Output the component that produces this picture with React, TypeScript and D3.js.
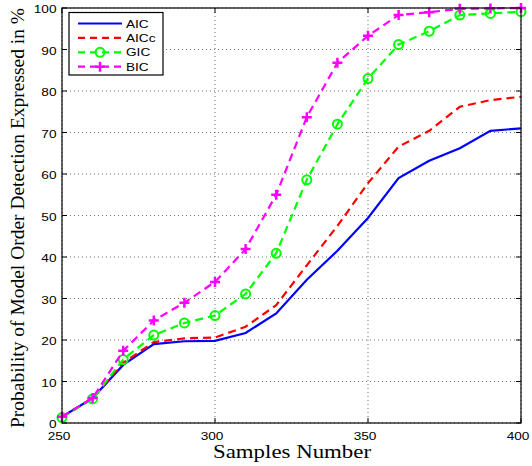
import React from "react";
import * as d3 from "d3";

const samples = [250, 260, 270, 280, 290, 300, 310, 320, 330, 340, 350, 360, 370, 380, 390, 400];
const aic = [1.5, 6, 14, 19, 19.7, 19.8, 21.7, 26.4, 34.5, 41.5, 49.4, 59, 63.2, 66.2, 70.4, 71];
const aicc = [1.5, 6, 14.5, 19.5, 20.4, 20.6, 23.2, 28.4, 38, 47.5, 57.8, 66.6, 70.4, 76.2, 77.8, 78.6];
const gic = [1.3, 5.8, 15.3, 21.2, 24.1, 25.9, 31.1, 40.9, 58.6, 72, 83, 91.2, 94.4, 98.3, 98.7, 99.1];
const bic = [1.5, 6, 17.4, 24.7, 29, 34, 41.9, 55, 73.7, 86.8, 93.3, 98.3, 99, 99.8, 99.9, 100];
const xTicks = [250, 300, 350, 400];
const yTicks = [0, 10, 20, 30, 40, 50, 60, 70, 80, 90, 100];
const seriesNames = ["AIC", "AICc", "GIC", "BIC"];

const M = { left: 62, right: 521, top: 8, bottom: 423 };
const SX = 1.3;

export default function App() {
  const x = d3.scaleLinear().domain([250, 400]).range([M.left, M.right]);
  const y = d3.scaleLinear().domain([0, 100]).range([M.bottom, M.top]);
  const line = d3
    .line<number>()
    .x((_, i) => x(samples[i]))
    .y((d) => y(d));

  const series = [
    { name: seriesNames[0], data: aic, color: "#0000ff", dash: undefined, marker: "none" },
    { name: seriesNames[1], data: aicc, color: "#ff0000", dash: "8,5", marker: "none" },
    { name: seriesNames[2], data: gic, color: "#00ff00", dash: "8,5", marker: "circle" },
    { name: seriesNames[3], data: bic, color: "#ff00ff", dash: "8,5", marker: "plus" },
  ];

  const marker = (kind: string, cx: number, cy: number, color: string, key: string) => {
    if (kind === "circle")
      return <circle key={key} cx={cx} cy={cy} r={4.5} fill="none" stroke={color} strokeWidth={2} />;
    if (kind === "plus")
      return (
        <path key={key} d={`M${cx - 5},${cy}H${cx + 5}M${cx},${cy - 5}V${cy + 5}`} stroke={color} strokeWidth={2.5} />
      );
    return null;
  };

  const sans = "'Liberation Sans', Arial, Helvetica, sans-serif";
  const serif = "'Liberation Serif', 'DejaVu Serif', serif";

  const stext = (key: string, tx: number, ty: number, anchor: string, s: string | number) => (
    <text
      key={key}
      transform={`translate(${tx},${ty}) scale(${SX},1)`}
      textAnchor={anchor}
      fontFamily={sans}
      fontSize={10.5}
    >
      {s}
    </text>
  );

  return (
    <svg width={532} height={466} style={{ position: "absolute", left: 0, top: 0, background: "#fff" }}>
      <rect x={0} y={0} width={532} height={466} fill="#fff" />
      {/* grid */}
      {xTicks.map((t) => (
        <line key={"gx" + t} x1={x(t)} x2={x(t)} y1={M.top} y2={M.bottom} stroke="#333" strokeWidth={0.7} strokeDasharray="1,3" />
      ))}
      {yTicks.map((t) => (
        <line key={"gy" + t} x1={M.left} x2={M.right} y1={y(t)} y2={y(t)} stroke="#333" strokeWidth={0.7} strokeDasharray="1,3" />
      ))}
      {/* ticks */}
      {xTicks.map((t) => (
        <g key={"tx" + t}>
          <line x1={x(t)} x2={x(t)} y1={M.bottom} y2={M.bottom - 5} stroke="#000" />
          <line x1={x(t)} x2={x(t)} y1={M.top} y2={M.top + 5} stroke="#000" />
          {stext("xl" + t, x(t) - 3, M.bottom + 17, "middle", t)}
        </g>
      ))}
      {yTicks.map((t) => (
        <g key={"ty" + t}>
          <line x1={M.left} x2={M.left + 5} y1={y(t)} y2={y(t)} stroke="#000" />
          <line x1={M.right} x2={M.right - 5} y1={y(t)} y2={y(t)} stroke="#000" />
          {stext("yl" + t, M.left - 5.5, y(t) + 5.2, "end", t)}
        </g>
      ))}
      {/* series */}
      {series.map((s) => (
        <g key={s.name}>
          <path d={line(s.data) || ""} fill="none" stroke={s.color} strokeWidth={2.2} strokeDasharray={s.dash} />
          {s.data.map((v, i) => marker(s.marker, x(samples[i]), y(v), s.color, s.name + i))}
        </g>
      ))}
      {/* box */}
      <rect x={M.left} y={M.top} width={M.right - M.left} height={M.bottom - M.top} fill="none" stroke="#000" strokeWidth={1.2} />
      {/* legend */}
      <rect x={69} y={12.5} width={94} height={62.5} fill="#fff" stroke="#000" strokeWidth={1.2} />
      {series.map((s, i) => {
        const ly = 23.5 + i * 14.4;
        return (
          <g key={"lg" + s.name}>
            <line x1={78} x2={122} y1={ly} y2={ly} stroke={s.color} strokeWidth={2.2} strokeDasharray={s.dash ? "7,5" : undefined} />
            {marker(s.marker, 100, ly, s.color, "lm" + i)}
            {stext("lt" + i, 126, ly + 4, "start", s.name)}
          </g>
        );
      })}
      {/* axis labels */}
      <text
        x={292}
        y={457.5}
        textAnchor="middle"
        fontFamily={serif}
        fontSize={18}
        textLength={158}
        lengthAdjust="spacingAndGlyphs"
      >
        Samples Number
      </text>
      <text
        transform={`translate(23.5,218) rotate(-90)`}
        textAnchor="middle"
        fontFamily={serif}
        fontSize={18.5}
        textLength={420}
        lengthAdjust="spacingAndGlyphs"
      >
        Probability of Model Order Detection Expressed in %
      </text>
    </svg>
  );
}
